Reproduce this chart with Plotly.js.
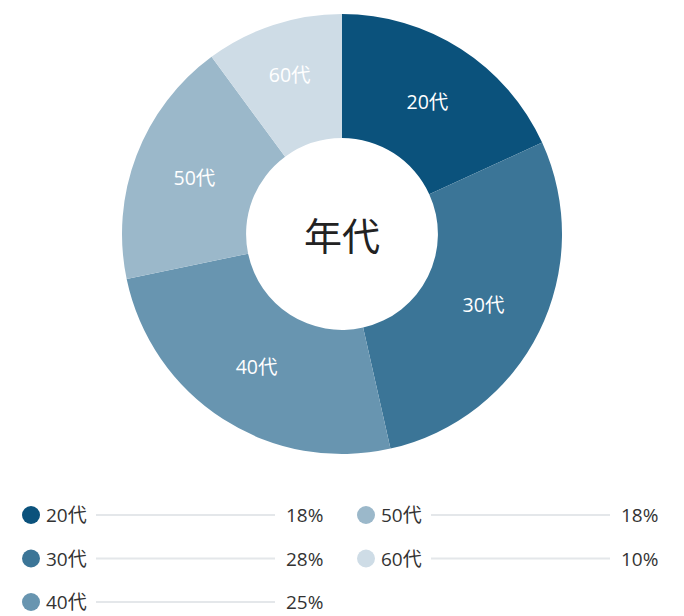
<!DOCTYPE html>
<html>
<head>
<meta charset="utf-8">
<script src="https://cdn.plot.ly/plotly-3.0.1.min.js"></script>
<style>
  html, body { margin: 0; padding: 0; background: #fff; }
  #chart { width: 684px; height: 616px; }
</style>
</head>
<body>
<div id="chart"></div>
<script>
const labels = ['20代', '30代', '40代', '50代', '60代'];
const values = [18, 28, 25, 18, 10];
const colors = ['#0b527c', '#3b7597', '#6895b0', '#9bb8ca', '#cedce6'];
const centerTitle = '年代';

const W = 684, H = 616;
const FONT = '"Open Sans", "Noto Sans CJK JP", sans-serif';

// pixel -> paper helpers
function px(x) { return x / W }
function py(y) { return 1 - y / H }

var shapes = [];
var annotations = [{
    text: centerTitle, showarrow: false,
    xref: 'paper', yref: 'paper', x: px(342), y: py(235),
    font: { size: 38, color: '#222', family: FONT }
}];

// custom legend: two columns, dot + label + rule + percent
for (let i = 0; i < labels.length; i++) {
    let col = i < 3 ? 0 : 1
    let row = i < 3 ? i : i - 3
    let ox = col * 335
    let cy = 515 + row * 43.5

    shapes.push({
        type: 'circle', xref: 'paper', yref: 'paper',
        x0: px(ox + 22), x1: px(ox + 40), y0: py(cy + 9), y1: py(cy - 9),
        fillcolor: colors[i], line: { width: 0 }
    })
    shapes.push({
        type: 'line', xref: 'paper', yref: 'paper',
        x0: px(ox + 96), x1: px(ox + 275), y0: py(cy), y1: py(cy),
        line: { color: '#e4e7ea', width: 2 }
    })
    annotations.push({
        text: labels[i], showarrow: false, xref: 'paper', yref: 'paper',
        x: px(ox + 44), y: py(cy), xanchor: 'left', yanchor: 'middle',
        font: { size: 19, color: '#333', family: FONT }
    })
    annotations.push({
        text: values[i] + '%', showarrow: false, xref: 'paper', yref: 'paper',
        x: px(ox + 325), y: py(cy), xanchor: 'right', yanchor: 'middle',
        font: { size: 19, color: '#333', family: FONT }
    })
}

Plotly.newPlot('chart', [{
    type: 'pie',
    labels: labels,
    values: values,
    hole: 0.436,
    sort: false,
    direction: 'clockwise',
    rotation: 0,
    marker: { colors: colors, line: { width: 0 } },
    textinfo: 'label',
    textposition: 'inside',
    insidetextorientation: 'horizontal',
    textfont: { color: '#fff', size: 19.5, family: FONT },
    hoverinfo: 'none',
    domain: { x: [0, 1], y: [py(454), py(14)] }
}], {
    width: W,
    height: H,
    margin: { l: 0, r: 0, t: 0, b: 0 },
    showlegend: false,
    uniformtext: { minsize: 19.5, mode: 'show' },
    paper_bgcolor: '#fff',
    shapes: shapes,
    annotations: annotations
}, { displayModeBar: false, staticPlot: true });
</script>
</body>
</html>
